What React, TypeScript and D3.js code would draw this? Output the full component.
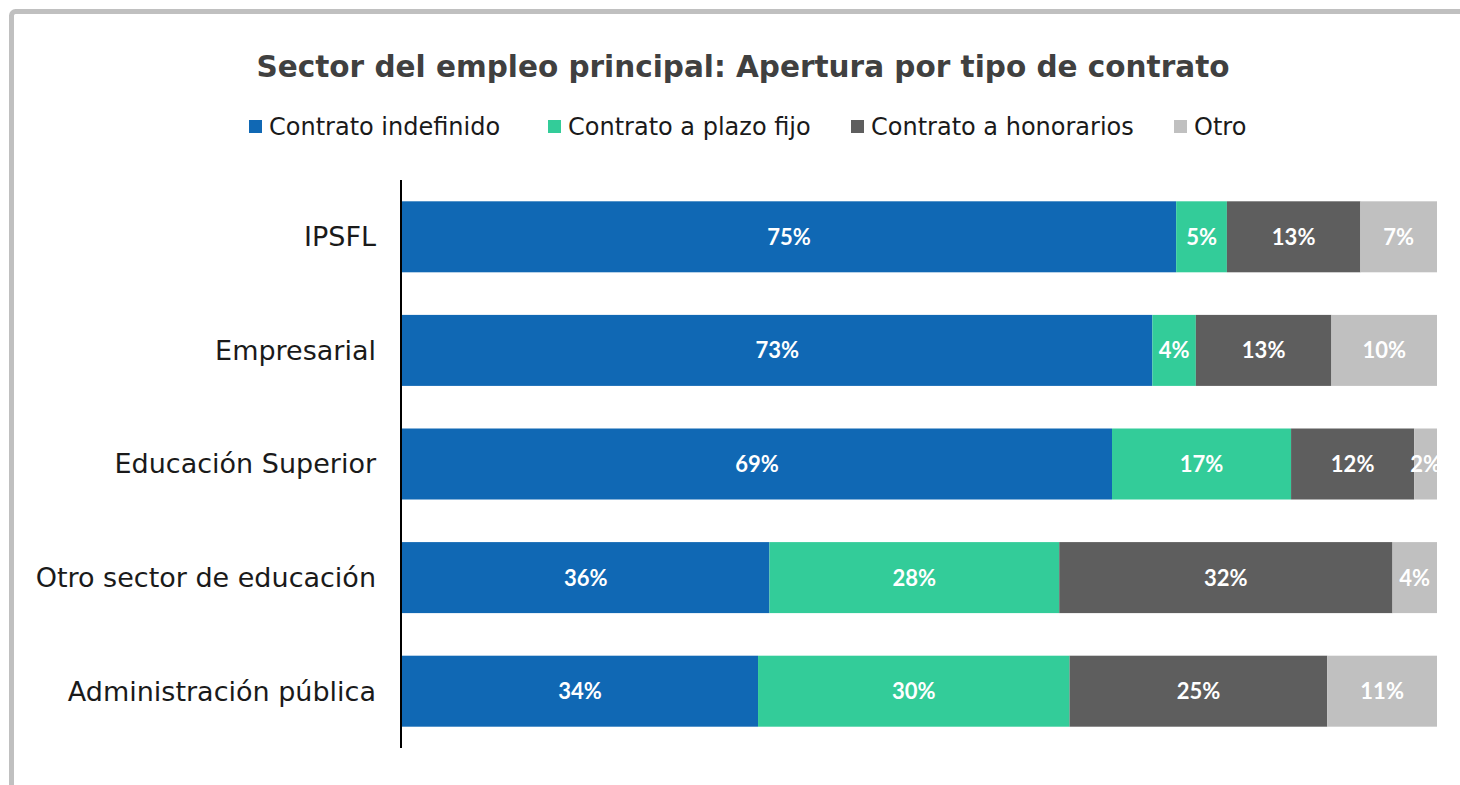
import React from "react";
import * as d3 from "d3";

const WIDTH = 1460;
const HEIGHT = 785;

const categories = [
  "IPSFL",
  "Empresarial",
  "Educación Superior",
  "Otro sector de educación",
  "Administración pública",
];
const seriesNames = [
  "Contrato indefinido",
  "Contrato a plazo fijo",
  "Contrato a honorarios",
  "Otro",
];
const indefinido = [74.8, 72.5, 68.6, 35.5, 34.4];
const plazoFijo = [4.9, 4.2, 17.3, 28.0, 30.1];
const honorarios = [12.9, 13.1, 11.9, 32.2, 24.9];
const otro = [7.4, 10.2, 2.2, 4.3, 10.6];
const seriesValues = [indefinido, plazoFijo, honorarios, otro];

const COLORS = ["#1068b4", "#33cc99", "#5e5e5e", "#c0c0c0"];
const MARGIN = { top: 180, right: 23, bottom: 37, left: 402 };
const FONT = "'DejaVu Sans', sans-serif";

export default function App() {
  const x = d3
    .scaleLinear()
    .domain([0, 100])
    .range([MARGIN.left, WIDTH - MARGIN.right]);
  const y = d3
    .scaleBand()
    .domain(categories)
    .range([MARGIN.top, HEIGHT - MARGIN.bottom])
    .paddingInner(0.375)
    .paddingOuter(0.1875);

  const rows = categories.map((c, i) => {
    const obj: Record<string, any> = { cat: c };
    seriesNames.forEach((s, j) => (obj[s] = seriesValues[j][i]));
    return obj;
  });
  const stacked = d3.stack().keys(seriesNames)(rows as any);

  // legend swatch positions
  const legendX = [249, 548, 851, 1174];

  return (
    <svg
      width={WIDTH}
      height={HEIGHT}
      style={{ position: "absolute", left: 0, top: 0, background: "#fff" }}
    >
      <defs>
        <clipPath id="plot-clip">
          <rect
            x={x(0)}
            y={MARGIN.top}
            width={x(100) - x(0)}
            height={HEIGHT - MARGIN.top - MARGIN.bottom}
          />
        </clipPath>
      </defs>
      <rect
        x={11.5}
        y={11.5}
        width={WIDTH + 20}
        height={HEIGHT + 20}
        rx={4}
        fill="none"
        stroke="#c0c0c0"
        strokeWidth={5}
      />
      <text
        x={743}
        y={77}
        textAnchor="middle"
        fontFamily={FONT}
        fontWeight={700}
        fontSize={29.5}
        fill="#404040"
      >
        Sector del empleo principal: Apertura por tipo de contrato
      </text>

      {seriesNames.map((s, j) => (
        <g key={s} transform={`translate(${legendX[j]},127)`}>
          <rect x={0} y={-7} width={13} height={13} fill={COLORS[j]} />
          <text
            x={20}
            y={0}
            dy="0.35em"
            fontFamily={FONT}
            fontSize={24}
            fill="#1a1a1a"
          >
            {s}
          </text>
        </g>
      ))}

      {stacked.map((layer, j) => (
        <g key={layer.key} fill={COLORS[j]}>
          {layer.map((d, i) => (
            <rect
              key={i}
              x={x(d[0])}
              y={y(categories[i])}
              width={x(d[1]) - x(d[0])}
              height={y.bandwidth()}
            />
          ))}
        </g>
      ))}

      <g clipPath="url(#plot-clip)">
        {stacked.map((layer) => (
          <g key={layer.key + "-lbl"}>
            {layer.map((d, i) => (
              <text
                key={i}
                x={(x(d[0]) + x(d[1])) / 2}
                y={(y(categories[i]) as number) + y.bandwidth() / 2}
                dy="0.36em"
                textAnchor="middle"
                fontFamily="Lato, sans-serif"
                fontWeight={700}
                fontSize={22}
                fill="#fff"
              >
                {Math.round(d[1] - d[0])}%
              </text>
            ))}
          </g>
        ))}
      </g>

      {categories.map((c) => (
        <text
          key={c}
          x={376}
          y={(y(c) as number) + y.bandwidth() / 2}
          dy="0.35em"
          textAnchor="end"
          fontFamily={FONT}
          fontSize={27}
          fill="#1a1a1a"
        >
          {c}
        </text>
      ))}

      <line
        x1={401}
        x2={401}
        y1={MARGIN.top}
        y2={HEIGHT - MARGIN.bottom}
        stroke="#000"
        strokeWidth={2}
      />
    </svg>
  );
}
